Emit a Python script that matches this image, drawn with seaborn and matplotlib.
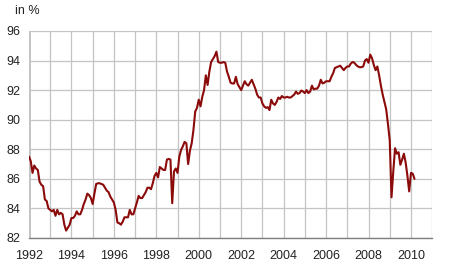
import numpy as np
import pandas as pd
import matplotlib
matplotlib.use("Agg")
import matplotlib.pyplot as plt
import seaborn as sns

start_year = 1992
values = [
    # 1992
    87.5, 87.2, 86.4, 86.9, 86.7, 86.6, 85.8, 85.6, 85.5, 84.6, 84.5, 84.0,
    # 1993
    83.9, 83.8, 83.9, 83.5, 83.9, 83.6, 83.7, 83.6, 82.9, 82.5, 82.7, 82.9,
    # 1994
    83.35, 83.35, 83.5, 83.8, 83.6, 83.6, 83.9, 84.3, 84.6, 85.0, 84.9, 84.7,
    # 1995
    84.3, 85.0, 85.65, 85.7, 85.7, 85.65, 85.6, 85.4, 85.2, 85.1, 84.8, 84.6,
    # 1996
    84.4, 83.9, 83.05, 83.0, 82.9, 83.1, 83.4, 83.4, 83.4, 83.9, 83.6, 83.6,
    # 1997
    84.0, 84.4, 84.85, 84.7, 84.7, 84.9, 85.1, 85.4, 85.4, 85.3, 85.7, 86.2,
    # 1998
    86.4, 86.1, 86.8, 86.7, 86.6, 86.6, 87.3, 87.35, 87.3, 84.35, 86.5, 86.7,
    # 1999
    86.4, 87.5, 87.95, 88.2, 88.5, 88.4, 87.0, 87.9, 88.4, 89.3, 90.55, 90.8,
    # 2000
    91.35, 90.9, 91.55, 92.0, 93.0, 92.35, 93.25, 93.9, 94.1, 94.3, 94.6, 93.9,
    # 2001
    93.85, 93.85, 93.9, 93.85, 93.25, 92.9, 92.5, 92.45, 92.45, 92.9, 92.4, 92.2,
    # 2002
    92.0, 92.3, 92.6, 92.4, 92.3, 92.5, 92.7, 92.4, 92.1, 91.7, 91.5, 91.5,
    # 2003
    91.1, 90.9, 90.8, 90.85, 90.65, 91.35, 91.1, 91.0, 91.2, 91.5, 91.4, 91.6,
    # 2004
    91.5, 91.5, 91.55, 91.5, 91.5, 91.6, 91.7, 91.9, 91.75, 91.8, 91.97, 91.9,
    # 2005
    91.8, 92.0, 91.8, 91.9, 92.3, 92.05, 92.1, 92.1, 92.3, 92.7, 92.45, 92.5,
    # 2006
    92.6, 92.6, 92.6, 92.9, 93.15, 93.5, 93.55, 93.6, 93.65, 93.5, 93.35, 93.5,
    # 2007
    93.6, 93.6, 93.8, 93.9, 93.85, 93.7, 93.6, 93.55, 93.55, 93.6, 94.0, 94.1,
    # 2008
    93.85, 94.4, 94.15, 93.7, 93.35, 93.6, 93.0, 92.3, 91.7, 91.2, 90.7, 89.7,
    # 2009
    88.6, 84.75, 86.5, 88.07, 87.7, 87.8, 86.95, 87.3, 87.7, 87.1, 86.2, 85.15,
    # 2010
    86.4, 86.35, 86.0,
]

year_ticks = list(range(1992, 2012))
year_labels = [str(y) if y % 2 == 0 and y <= 2010 else "" for y in year_ticks]
y_ticks = [82, 84, 86, 88, 90, 92, 94, 96]

df = pd.DataFrame({
    "time": [start_year + i / 12 for i in range(len(values))],
    "value": values,
})

sns.set_style("white")
plt.rcParams["font.family"] = ["Liberation Sans", "DejaVu Sans"]

fig = plt.figure(figsize=(4.5, 2.79), dpi=100)
ax = fig.add_axes([0.0644, 0.147, 0.896, 0.742])

sns.lineplot(data=df, x="time", y="value", ax=ax, color="#8b0a0a", linewidth=1.5)

ax.set_xlim(1992, 2011)
ax.set_ylim(82, 96)
ax.set_xticks(year_ticks)
ax.set_xticklabels(year_labels)
ax.set_yticks(y_ticks)
ax.set_xlabel("")
ax.set_ylabel("")

ax.grid(True, color="#c4c4c4", linewidth=0.9)
ax.set_axisbelow(True)
for s in ["top", "right", "left"]:
    ax.spines[s].set_visible(False)
ax.spines["bottom"].set_color("#7f7f7f")
ax.spines["bottom"].set_linewidth(1.0)
ax.axvline(1992, color="#bdbdbd", linewidth=2.0, zorder=0.5)

ax.tick_params(axis="x", direction="out", length=3.5, width=0.8, color="#7f7f7f",
               labelsize=9, pad=5, labelcolor="#222222")
ax.tick_params(axis="y", direction="out", length=3, width=0.8, color="#9a9a9a",
               labelsize=9, pad=3, labelcolor="#222222")

fig.text(0.033, 0.96, "in %", fontsize=9, color="#222222", va="center", ha="left")

fig.savefig("out.png", dpi=100, facecolor="white")
